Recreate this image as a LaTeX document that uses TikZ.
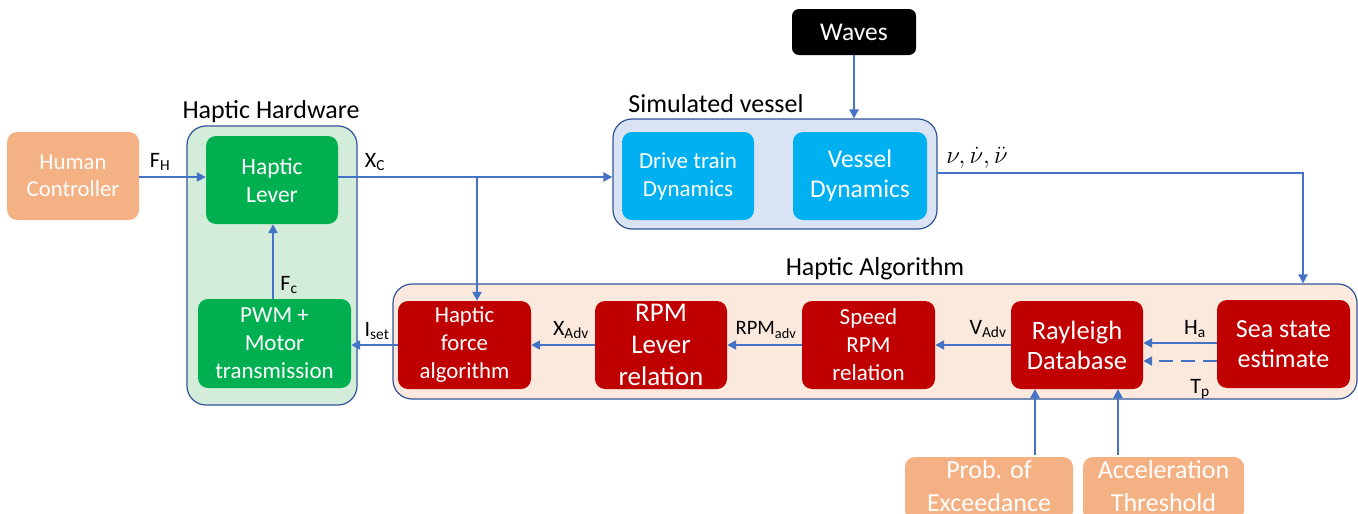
\documentclass[tikz,border=0pt]{standalone}
\usepackage{fontspec}
\setmainfont{Carlito}
\usetikzlibrary{arrows.meta}
\definecolor{peach}{HTML}{F4B183}
\definecolor{hwgreen}{HTML}{00B050}
\definecolor{hwbg}{HTML}{D3EDDA}
\definecolor{simbg}{HTML}{DAE3F3}
\definecolor{simbox}{HTML}{00B0F0}
\definecolor{algred}{HTML}{C00000}
\definecolor{algbg}{HTML}{FBE9DE}
\definecolor{wire}{HTML}{4472C4}
\definecolor{frame}{HTML}{2F5597}
\newcommand{\fsz}[2]{\fontsize{#1}{#2}\selectfont}
\tikzset{
  x=1pt, y=-1pt,
  blk/.style={rounded corners=10pt, align=center, text=white, inner sep=0pt},
  group/.style={rounded corners=19pt, draw=frame, line width=1.2pt, inner sep=0pt},
  wirearrow/.style={draw=wire, line width=2.4pt, -{Triangle[length=9pt,width=9pt]}},
  lbl/.style={font=\fsz{22}{26}, inner sep=0pt},
  title/.style={font=\fsz{26}{30}, inner sep=0pt},
}
\begin{document}
\begin{tikzpicture}
\useasboundingbox (0,0) rectangle (1358,514);
\clip (0,0) rectangle (1358,514);

% group frames
\node[group, fill=hwbg, minimum width=170pt, minimum height=279pt] (hw) at (272,265.5) {};
\node[group, fill=simbg, minimum width=324pt, minimum height=110pt] (sim) at (775,174) {};
\node[group, fill=algbg, minimum width=964pt, minimum height=115pt] (alg) at (875,341.5) {};

% group titles
\node[title] (hwt) at (271,112) {Haptic Hardware};
\node[title] (simt) at (716,104) {Simulated vessel};
\node[title] (algt) at (875,269) {Haptic Algorithm};

% blocks
\node[blk, fill=peach, minimum width=132pt, minimum height=88pt, font=\fsz{22.7}{27}] (hum) at (73,176) {Human\\Controller};
\node[blk, fill=hwgreen, minimum width=132pt, minimum height=88pt, font=\fsz{23.5}{28}] (lever) at (272,180) {Haptic\\Lever};
\node[blk, fill=hwgreen, minimum width=153pt, minimum height=89pt, font=\fsz{23}{28}] (pwm) at (274.5,343.5) {PWM +\\Motor\\transmission};
\node[blk, fill=simbox, minimum width=132pt, minimum height=88pt, font=\fsz{23}{28}] (dtd) at (688,176) {Drive train\\Dynamics};
\node[blk, fill=simbox, minimum width=134pt, minimum height=88pt, font=\fsz{25.5}{30}] (vd) at (860,176) {Vessel\\Dynamics};
\node[blk, fill=black, minimum width=124pt, minimum height=46pt, rounded corners=7pt, font=\fsz{25.5}{30}] (waves) at (854,32) {Waves};
\node[blk, fill=algred, minimum width=133pt, minimum height=88pt, font=\fsz{22.8}{28}] (hfa) at (464.5,345) {Haptic\\force\\algorithm};
\node[blk, fill=algred, minimum width=132pt, minimum height=88pt, font=\fsz{27}{32}] (rpm) at (661,345) {RPM\\Lever\\relation};
\node[blk, fill=algred, minimum width=133pt, minimum height=88pt, font=\fsz{23}{28}] (spd) at (868.5,345) {Speed\\RPM\\relation};
\node[blk, fill=algred, minimum width=132pt, minimum height=88pt, font=\fsz{26.5}{30}] (ray) at (1077,345) {Rayleigh\\Database};
\node[blk, fill=algred, minimum width=133pt, minimum height=88pt, font=\fsz{26}{30}] (sea) at (1283.5,344) {Sea state\\estimate};
\node[blk, fill=peach, minimum width=168pt, minimum height=64pt, text depth=7pt, font=\fsz{26}{33}] (prob) at (989,489) {Prob. of\\Exceedance};
\node[blk, fill=peach, minimum width=161pt, minimum height=64pt, text depth=7pt, font=\fsz{26}{33}] (acc) at (1163.5,489) {Acceleration\\Threshold};

% junction and bend points
\coordinate (j) at (477,177);
\coordinate (nu) at (1303,173);
\coordinate (pa) at (1035,389);
\coordinate (aa) at (1118,389);

% connectors
\draw[wirearrow] (hum.east |- 0,177) -- (lever.west |- 0,177);
\draw[wirearrow] (lever.east |- j) -- (sim.west |- j);
\draw[wirearrow] (j) -- (j |- hfa.north);
\draw[wirearrow] (pwm.north -| 273,0) -- (lever.south -| 273,0);
\draw[wirearrow] (waves.south) -- (waves.south |- sim.north);
\draw[wirearrow] (sim.east |- nu) -- (nu) -- (nu |- alg.north);
\draw[wirearrow] (sea.west |- 0,343) -- (ray.east |- 0,343);
\draw[wirearrow, dash pattern=on 14pt off 8pt] (sea.west |- 0,361) -- (ray.east |- 0,361);
\draw[wirearrow] (ray.west) -- (spd.east);
\draw[wirearrow] (spd.west) -- (rpm.east);
\draw[wirearrow] (rpm.west) -- (hfa.east);
\draw[wirearrow] (hfa.west) -- (hfa.west -| pwm.east);
\draw[wirearrow] (pa |- 0,455) -- (pa);
\draw[wirearrow] (aa |- 0,455) -- (aa);

% signal labels
\node[lbl] (fh) at (160,162) {F\textsubscript{H}};
\node[lbl] (xc) at (375,162) {X\textsubscript{C}};
\node[lbl] (fc) at (289,285) {F\textsubscript{c}};
\node[lbl] (iset) at (377,331) {I\textsubscript{set}};
\node[lbl] (xadv) at (571,330) {X\textsubscript{Adv}};
\node[lbl, font=\fsz{20.5}{24}] (rpmadv) at (766,330) {RPM\textsubscript{adv}};
\node[lbl] (vadv) at (988,329) {V\textsubscript{Adv}};
\node[lbl] (ha) at (1195,329) {H\textsubscript{a}};
\node[lbl] (tp) at (1200,389) {T\textsubscript{p}};
\node[lbl, font=\fsz{24}{28}] (nul) at (977,158) {$\nu, \dot{\nu}, \ddot{\nu}$};
\end{tikzpicture}
\end{document}
